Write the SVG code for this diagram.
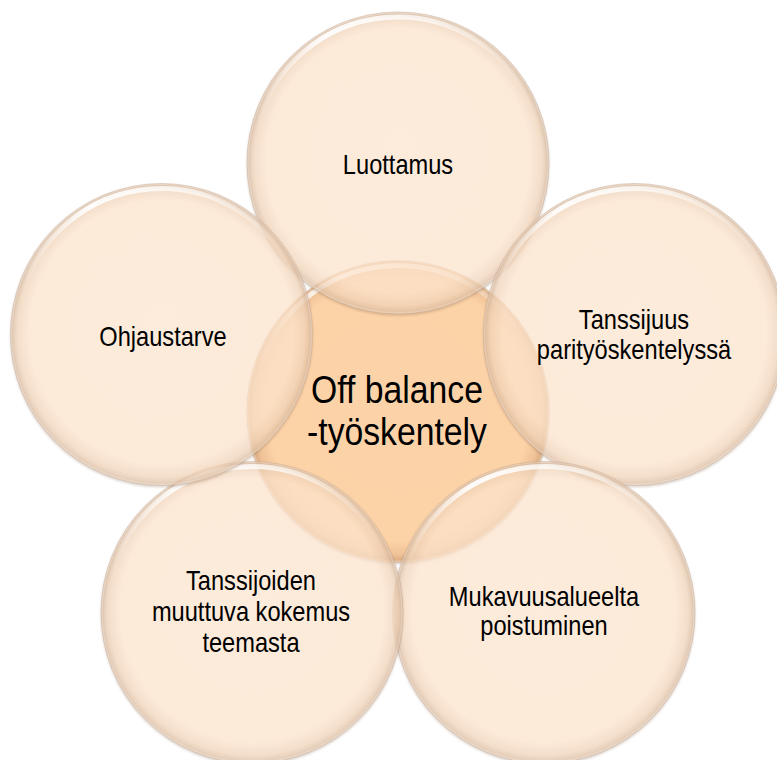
<svg xmlns="http://www.w3.org/2000/svg" xmlns:xlink="http://www.w3.org/1999/xlink" width="777" height="760" viewBox="0 0 777 760">
<style>
  .outer { fill: url(#gOuter); fill-opacity: 0.74; stroke: #BFA088; stroke-opacity: 0.45; stroke-width: 1; }
  .center { fill: url(#gCenter); stroke: #BFA088; stroke-opacity: 0.45; stroke-width: 1; }
  .edge { fill: none; stroke: #7a5a40; stroke-opacity: 0.28; stroke-width: 2.5; filter: url(#blur); }
  .lbl { font-family: "Liberation Sans", Arial, sans-serif; font-size: 27px; fill: #000; text-anchor: middle; }
  .big { font-size: 39px; }
</style>
<defs>
  <radialGradient id="gOuter" cx="0.5" cy="0.5" r="0.5" fx="0.5" fy="0.44">
    <stop offset="0" stop-color="#FCE4CE"/>
    <stop offset="0.87" stop-color="#FCE3CC"/>
    <stop offset="0.95" stop-color="#F0D3B8"/>
    <stop offset="0.985" stop-color="#DDBEA2"/>
    <stop offset="1" stop-color="#F3E3D4"/>
  </radialGradient>
  <radialGradient id="gCenter" cx="0.5" cy="0.5" r="0.5" fx="0.5" fy="0.44">
    <stop offset="0" stop-color="#FCD3A8"/>
    <stop offset="0.87" stop-color="#FCD2A7"/>
    <stop offset="0.95" stop-color="#F0C398"/>
    <stop offset="0.985" stop-color="#DDB087"/>
    <stop offset="1" stop-color="#F3D9BF"/>
  </radialGradient>
  <linearGradient id="gHi" x1="0" y1="0" x2="1" y2="0">
    <stop offset="0" stop-color="#FFFFFF" stop-opacity="0"/>
    <stop offset="0.25" stop-color="#FFFFFF" stop-opacity="0.95"/>
    <stop offset="0.65" stop-color="#FFFFFF" stop-opacity="0.65"/>
    <stop offset="1" stop-color="#FFFFFF" stop-opacity="0"/>
  </linearGradient>
  <filter id="blur" x="-10%" y="-10%" width="120%" height="120%">
    <feGaussianBlur stdDeviation="1.2"/>
  </filter>
  <filter id="soft" x="-10%" y="-10%" width="120%" height="120%">
    <feGaussianBlur stdDeviation="0.6"/>
  </filter>
  <path id="hi" d="M -141 -37.8 A 146 146 0 0 1 132.3 -61.7" fill="none" stroke="url(#gHi)" stroke-width="5" stroke-linecap="round" filter="url(#soft)"/>
  <circle id="shade" r="150" cy="1.5" class="edge"/>
</defs>

<g id="connectors"/>

<g id="node-center">
  <use xlink:href="#shade" href="#shade" transform="translate(398 411.5)"/>
  <circle class="center" cx="398" cy="411.5" r="151"/>
  <use xlink:href="#hi" href="#hi" transform="translate(398 411.5)"/>
  <text class="lbl big" transform="translate(397 403) scale(0.865 1)">Off balance<tspan x="0" dy="42.5">-työskentely</tspan></text>
</g>

<g id="node-luottamus">
  <use xlink:href="#shade" href="#shade" transform="translate(398 163)"/>
  <circle class="outer" cx="398" cy="163" r="151"/>
  <use xlink:href="#hi" href="#hi" transform="translate(398 163)"/>
  <text class="lbl" transform="translate(398 174.3) scale(0.875 1)">Luottamus</text>
</g>

<g id="node-tanssijuus">
  <use xlink:href="#shade" href="#shade" transform="translate(634.5 334.5)"/>
  <circle class="outer" cx="634.5" cy="334.5" r="151"/>
  <use xlink:href="#hi" href="#hi" transform="translate(634.5 334.5)"/>
  <text class="lbl" transform="translate(634 329) scale(0.875 1)">Tanssijuus<tspan x="0" dy="30.5">parityöskentelyssä</tspan></text>
</g>

<g id="node-mukavuusalueelta">
  <use xlink:href="#shade" href="#shade" transform="translate(544 612.5)"/>
  <circle class="outer" cx="544" cy="612.5" r="151"/>
  <use xlink:href="#hi" href="#hi" transform="translate(544 612.5)"/>
  <text class="lbl" transform="translate(544 605.5) scale(0.875 1)">Mukavuusalueelta<tspan x="0" dy="30">poistuminen</tspan></text>
</g>

<g id="node-tanssijoiden">
  <use xlink:href="#shade" href="#shade" transform="translate(252 612.5)"/>
  <circle class="outer" cx="252" cy="612.5" r="151"/>
  <use xlink:href="#hi" href="#hi" transform="translate(252 612.5)"/>
  <text class="lbl" transform="translate(251 590) scale(0.875 1)">Tanssijoiden<tspan x="0" dy="30.8">muuttuva kokemus</tspan><tspan x="0" dy="30.8">teemasta</tspan></text>
</g>

<g id="node-ohjaustarve">
  <use xlink:href="#shade" href="#shade" transform="translate(161.5 334.5)"/>
  <circle class="outer" cx="161.5" cy="334.5" r="151"/>
  <use xlink:href="#hi" href="#hi" transform="translate(161.5 334.5)"/>
  <text class="lbl" transform="translate(163 345.7) scale(0.875 1)">Ohjaustarve</text>
</g>
</svg>
